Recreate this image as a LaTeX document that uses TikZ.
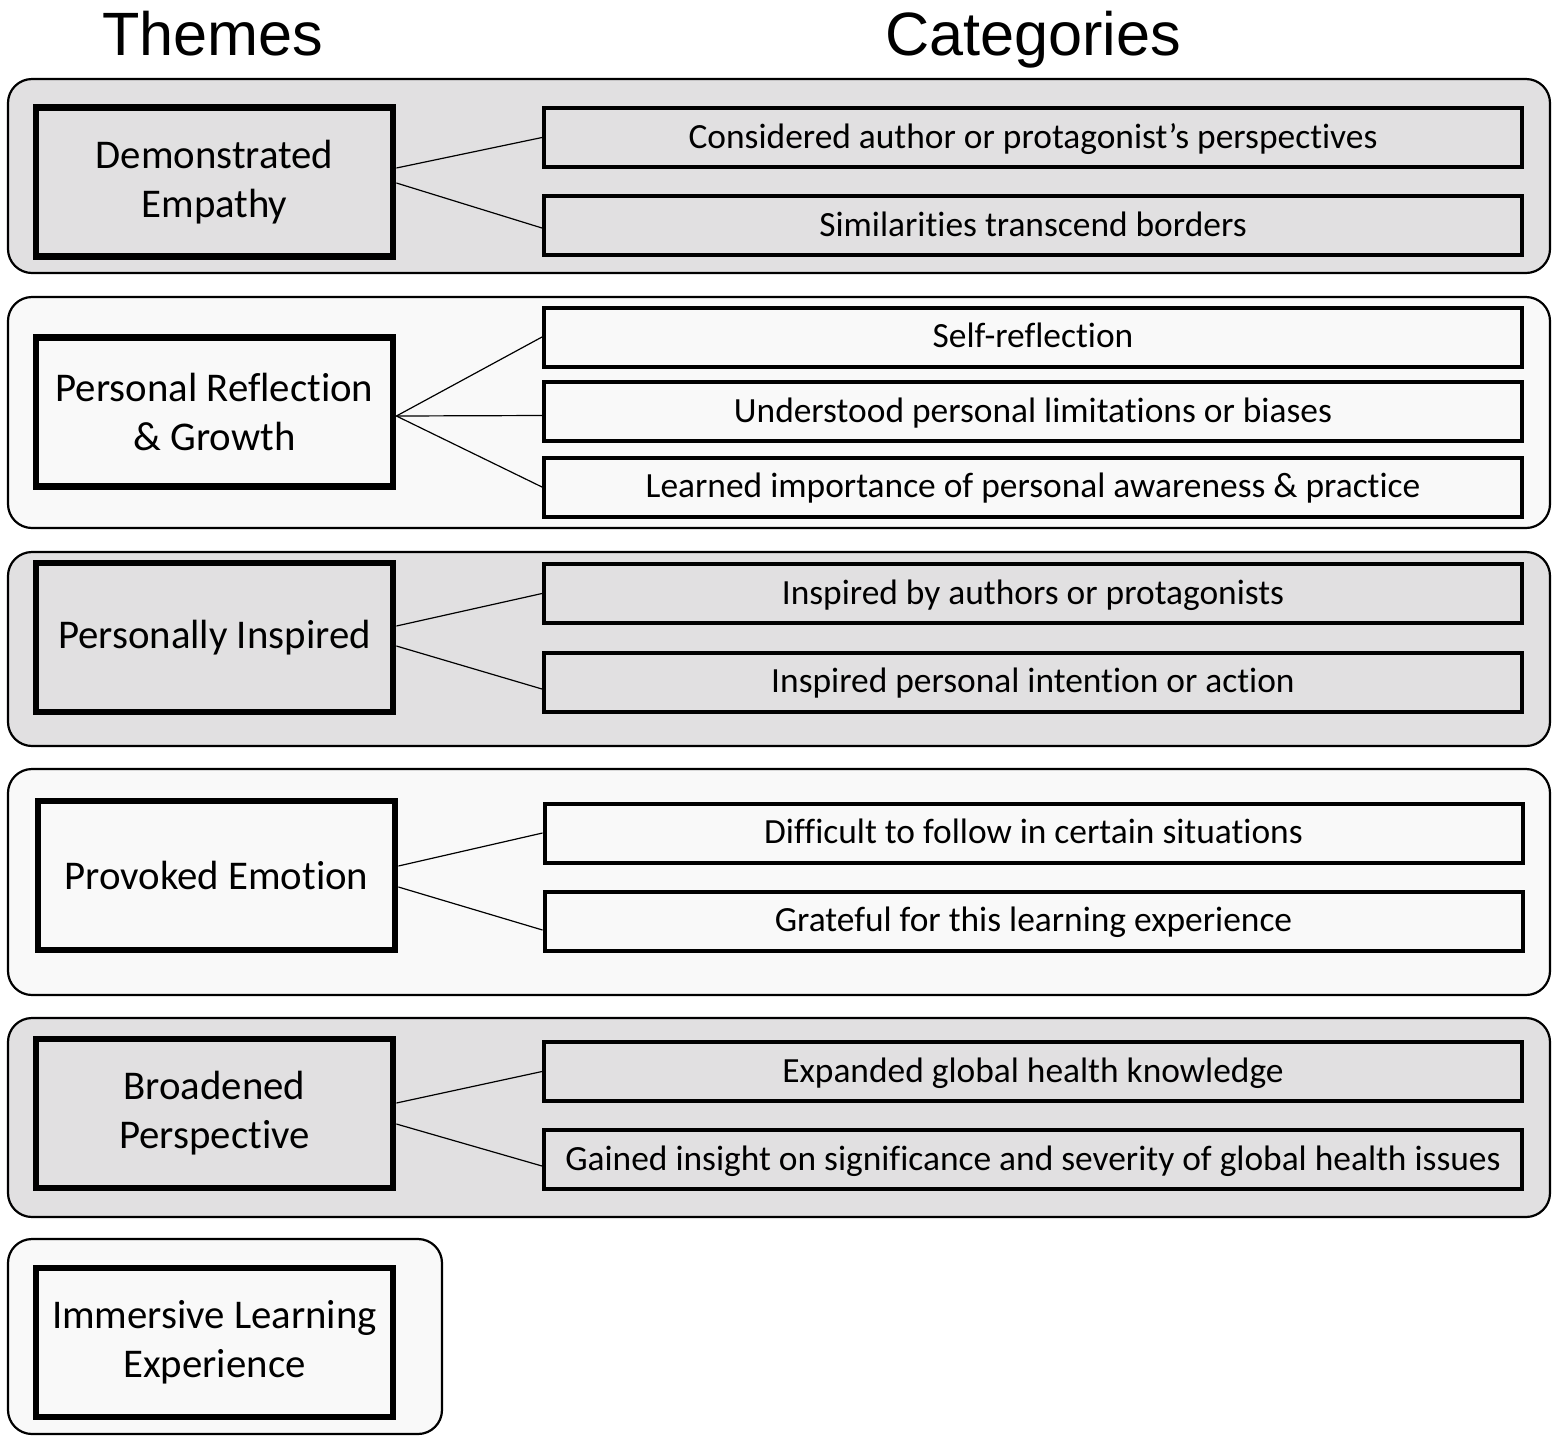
\documentclass[tikz,border=0pt]{standalone}
\usepackage{fontspec}
\setmainfont{Carlito}[Ligatures=NoCommon]
\newfontfamily\titlefont{Liberation Sans}
\definecolor{pdark}{RGB}{225,224,225}
\definecolor{plight}{RGB}{249,249,249}
\begin{document}
\begin{tikzpicture}[x=0.5pt,y=-0.5pt,
 panel/.style={draw, line width=1.1pt, rounded corners=12pt, inner sep=0pt},
 theme/.style={draw, line width=3.4pt, minimum width=178.5pt, minimum height=74.5pt, align=center, font=\fontsize{20.4}{24.5}\selectfont, inner sep=0pt},
 cat/.style={draw, line width=2pt, minimum width=489pt, minimum height=29.5pt, inner sep=0pt, text height=13pt, text depth=2.5pt, font=\fontsize{17.7}{20}\selectfont},
 conn/.style={line width=0.6pt},
 ttl/.style={font=\titlefont\fontsize{30.6}{36}\selectfont, anchor=base, inner sep=0pt}]
\useasboundingbox (0,0) rectangle (1559,1442);

\node[ttl] (h1) at (213,55) {Themes};
\node[ttl] (h2) at (1033,55) {Categories};

% panels
\node[panel, fill=pdark, minimum width=771pt, minimum height=97pt] (p1) at (779,176) {};
\node[panel, fill=plight, minimum width=771pt, minimum height=115.5pt] (p2) at (779,412.5) {};
\node[panel, fill=pdark, minimum width=771pt, minimum height=97pt] (p3) at (779,649) {};
\node[panel, fill=plight, minimum width=771pt, minimum height=113pt] (p4) at (779,882) {};
\node[panel, fill=pdark, minimum width=771pt, minimum height=99.5pt] (p5) at (779,1117.5) {};
\node[panel, fill=plight, minimum width=217pt, minimum height=97.5pt] (p6) at (225,1336.5) {};

% themes
\node[theme, fill=pdark] (t1) at (214.5,182) {Demonstrated\\Empathy};
\node[theme, fill=plight] (t2) at (214.5,412) {Personal Reflection\\\& Growth};
\node[theme, fill=pdark] (t3) at (214.5,637.5) {Personally Inspired};
\node[theme, fill=plight] (t4) at (216.5,875.5) {Provoked Emotion};
\node[theme, fill=pdark] (t5) at (214.5,1113.5) {Broadened\\Perspective};
\node[theme, fill=plight] (t6) at (214.5,1342.5) {Immersive Learning\\Experience};

% categories
\node[cat, fill=pdark] (c11) at (1033,137.5) {Considered author or protagonist’s perspectives};
\node[cat, fill=pdark] (c12) at (1033,225.5) {Similarities transcend borders};
\node[cat, fill=plight] (c21) at (1033,337) {Self-reflection};
\node[cat, fill=plight] (c22) at (1033,411.5) {Understood personal limitations or biases};
\node[cat, fill=plight] (c23) at (1033,487) {Learned importance of personal awareness \& practice};
\node[cat, fill=pdark] (c31) at (1033,593.5) {Inspired by authors or protagonists};
\node[cat, fill=pdark] (c32) at (1033,682) {Inspired personal intention or action};
\node[cat, fill=plight] (c41) at (1033.5,833) {Difficult to follow in certain situations};
\node[cat, fill=plight] (c42) at (1033.5,921) {Grateful for this learning experience};
\node[cat, fill=pdark] (c51) at (1033,1071.5) {Expanded global health knowledge};
\node[cat, fill=pdark] (c52) at (1033,1159.5) {Gained insight on significance and severity of global health issues};

% connectors
\draw[conn] ([yshift=7pt]t1.east) -- (c11.west);
\draw[conn] ([yshift=-0.5pt]t1.east) -- ([yshift=-1.25pt]c12.west);
\draw[conn] ([yshift=-2pt]t2.east) -- (c21.west);
\draw[conn] ([yshift=-2pt]t2.east) -- ([yshift=-2pt]c22.west);
\draw[conn] ([yshift=-2pt]t2.east) -- (c23.west);
\draw[conn] ([yshift=5.75pt]t3.east) -- (c31.west);
\draw[conn] ([yshift=-4.25pt]t3.east) -- ([yshift=-3.5pt]c32.west);
\draw[conn] ([yshift=4.75pt]t4.east) -- (c41.west);
\draw[conn] ([yshift=-5.75pt]t4.east) -- ([yshift=-4.5pt]c42.west);
\draw[conn] ([yshift=5.25pt]t5.east) -- (c51.west);
\draw[conn] ([yshift=-5.25pt]t5.east) -- ([yshift=-3.25pt]c52.west);
\end{tikzpicture}
\end{document}
